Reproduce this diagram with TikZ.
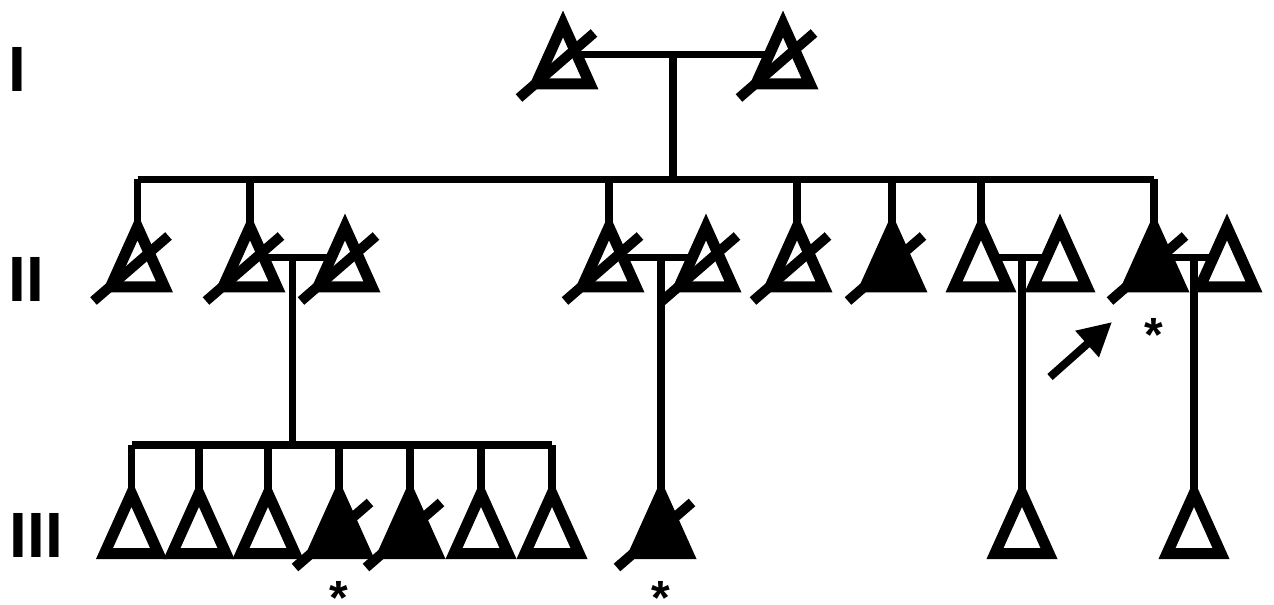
\documentclass[tikz,border=0pt]{standalone}
\usepackage{fontspec}
\setmainfont{Liberation Sans}
\usetikzlibrary{arrows.meta}
\pgfdeclarelayer{bg}
\pgfsetlayers{bg,main}
\tikzset{
  conn/.style={line width=5.5pt, line cap=butt},
  trishape/.style={draw=black, line width=8.25pt, line join=miter},
  slashline/.style={draw=black, line width=7.5pt, line cap=butt},
  genlab/.style={font=\bfseries\fontsize{48}{48}\selectfont, inner sep=0pt},
  astx/.style={font=\bfseries\fontsize{36}{36}\selectfont, inner sep=0pt, anchor=north},
  ped/.pic={
    \coordinate (-apex) at (0,-60);
    \coordinate (-mid) at (0,-29.5);
    \path[trishape,fill=white] (-27,0) -- (0,-60) -- (27,0) -- cycle;
  },
  pedaff/.pic={
    \coordinate (-apex) at (0,-60);
    \coordinate (-mid) at (0,-29.5);
    \path[trishape,fill=black] (-27,0) -- (0,-60) -- (27,0) -- cycle;
  },
  pedslash/.pic={
    \path[slashline] (-44,14) -- (31,-51);
  }
}
\begin{document}
\begin{tikzpicture}[x=0.75pt,y=-0.75pt]
\useasboundingbox (0,0) rectangle (1274,605);

% generation labels
\node[genlab] (g1) at (17.7,69) {I};
\node[genlab] (g2) at (26.5,279) {II};
\node[genlab] (g3) at (36.5,535) {III};

% generation I
\pic (a1) at (563,84) {ped}; \pic at (563,84) {pedslash};
\pic (a2) at (783,84) {ped}; \pic at (783,84) {pedslash};

% generation II
\pic (b1) at (137.5,287) {ped}; \pic at (137.5,287) {pedslash};
\pic (b2) at (250,287) {ped}; \pic at (250,287) {pedslash};
\pic (b3) at (345,287) {ped}; \pic at (345,287) {pedslash};
\pic (b4) at (609,287) {ped}; \pic at (609,287) {pedslash};
\pic (b5) at (706,287) {ped}; \pic at (706,287) {pedslash};
\pic (b6) at (797,287) {ped}; \pic at (797,287) {pedslash};
\pic (b7) at (892,287) {pedaff}; \pic at (892,287) {pedslash};
\pic (b8) at (981,287) {ped};
\pic (b9) at (1060,287) {ped};
\pic (b10) at (1154,287) {pedaff}; \pic at (1154,287) {pedslash};
\pic (b11) at (1227,287) {ped};

% generation III
\pic (c1) at (131.5,553.5) {ped};
\pic (c2) at (199,553.5) {ped};
\pic (c3) at (268,553.5) {ped};
\pic (c4) at (339,553.5) {pedaff}; \pic at (339,553.5) {pedslash};
\pic (c5) at (410,553.5) {pedaff}; \pic at (410,553.5) {pedslash};
\pic (c6) at (481,553.5) {ped};
\pic (c7) at (552,553.5) {ped};
\pic (c8) at (661,553.5) {pedaff}; \pic at (661,553.5) {pedslash};
\pic (c9) at (1022,553.5) {ped};
\pic (c10) at (1194,553.5) {ped};

% connection points
\coordinate (m0) at (673,54.5);
\coordinate (m1) at (292.5,257.5);
\coordinate (m2) at (661,257.5);
\coordinate (m3) at (1022,257.5);
\coordinate (m4) at (1194,257.5);
\coordinate (s2L) at (137.5,179.5);
\coordinate (s2R) at (1154,179.5);
\coordinate (s3L) at (131.5,445);
\coordinate (s3R) at (552,445);

\begin{pgfonlayer}{bg}
  % generation I
  \draw[conn] (a1-mid) -- (a2-mid);
  \draw[conn] (m0) -- (m0 |- s2L);
  \draw[conn] (s2L) -- (s2R);
  \foreach \c in {b1,b2,b4,b6,b7,b8,b10}{
    \draw[conn] (\c-apex |- s2L) -- (\c-apex);
  }
  % generation II couples
  \draw[conn] (b2-mid) -- (b3-mid);
  \draw[conn] (b4-mid) -- (b5-mid);
  \draw[conn] (b8-mid) -- (b9-mid);
  \draw[conn] (b10-mid) -- (b11-mid);
  \draw[conn] (m1) -- (m1 |- s3L);
  \draw[conn] (s3L) -- (s3R);
  \foreach \c in {c1,c2,c3,c4,c5,c6,c7}{
    \draw[conn] (\c-apex |- s3L) -- (\c-apex);
  }
  \draw[conn] (m2) -- (c8-apex);
  \draw[conn] (m3) -- (c9-apex);
  \draw[conn] (m4) -- (c10-apex);
\end{pgfonlayer}

% proband arrow
\coordinate (arT) at (1050,377);
\coordinate (arH) at (1112,322);
\draw[line width=6pt, -{Triangle[length=25pt,width=25pt]}] (arT) -- (arH);

% asterisks
\node[astx] (st1) at (1154,318) {*};
\node[astx] (st2) at (339,581) {*};
\node[astx] (st3) at (661,581) {*};
\end{tikzpicture}
\end{document}
